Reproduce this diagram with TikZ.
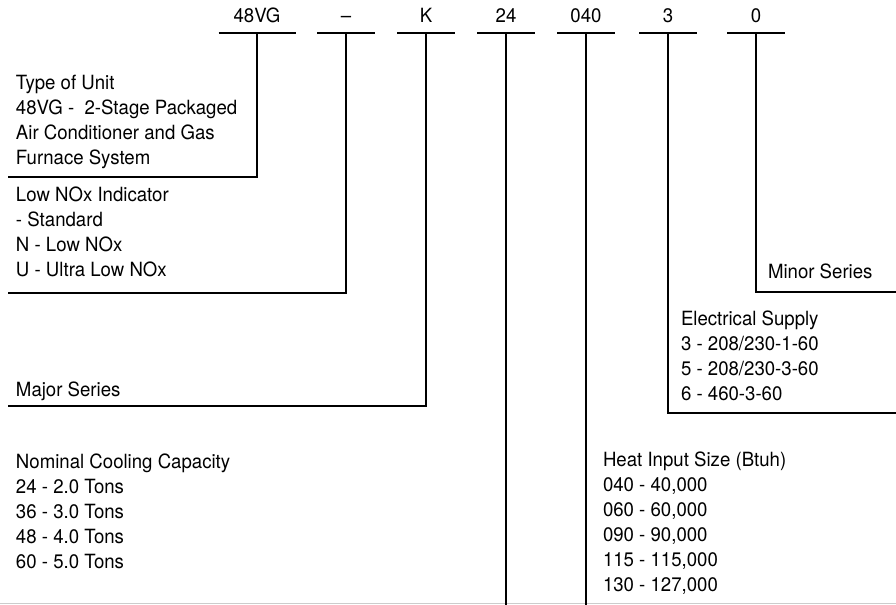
\documentclass[tikz,border=0pt]{standalone}
\usepackage{fontspec}
\setmainfont[FakeStretch=0.95]{TeX Gyre Heros}

\begin{document}
\begin{tikzpicture}[x=0.75pt,y=-0.75pt,line width=1.5pt,
  font=\fontsize{14.7}{18.75}\selectfont,
  code/.style={anchor=south,inner xsep=0pt,inner ysep=6.75pt,minimum width=42pt},
  desc/.style={anchor=north west,inner sep=0pt,align=left}]

% Frame
\useasboundingbox (0,0) rectangle (896,605);
\draw[line width=0.75pt,black!20] (0,603) -- (896,603);

% Code letters with underlines
\node[code,minimum width=56.25pt] (unit) at (257,33) {48VG};
\foreach \name/\txt/\x in {lownox/\textendash/346, major/K/426, cool/24/506,
                           heat/040/586, elec/3/668, minor/0/756}
  \node[code] (\name) at (\x,33) {\txt};
\foreach \name in {unit,lownox,major,cool,heat,elec,minor}
  \draw (\name.south west) -- (\name.south east);

% Line ends
\coordinate (unitend) at (8,177);
\coordinate (lownoxend) at (8,293);
\coordinate (majorend) at (8,406);
\coordinate (coolend) at (506,605);
\coordinate (heatend) at (586,605);
\coordinate (elecend) at (896,413);
\coordinate (minorend) at (896,292);

% Leaders
\foreach \name in {unit,lownox,major,cool,heat,elec,minor}
  \draw (\name.south) |- (\name end);

% Left side descriptions
\node[desc] (unittxt) at (15,74)
  {Type of Unit\\48VG - \ 2-Stage Packaged\\Air Conditioner and Gas\\Furnace System};
\node[desc] (lownoxtxt) at (15,186)
  {Low NOx Indicator\\- Standard\\N - Low NOx\\U - Ultra Low NOx};
\node[desc] (majortxt) at (15,381) {Major Series};
\node[desc] (cooltxt) at (15,453)
  {Nominal Cooling Capacity\\24 - 2.0 Tons\\36 - 3.0 Tons\\48 - 4.0 Tons\\60 - 5.0 Tons};

% Right side descriptions
\node[desc] (minortxt) at (767,263) {Minor Series};
\node[desc] (electxt) at (680,310)
  {Electrical Supply\\3 - 208/230-1-60\\5 - 208/230-3-60\\6 - 460-3-60};
\node[desc] (heattxt) at (602,451)
  {Heat Input Size (Btuh)\\040 - 40,000\\060 - 60,000\\090 - 90,000\\115 - 115,000\\130 - 127,000};

\end{tikzpicture}
\end{document}
